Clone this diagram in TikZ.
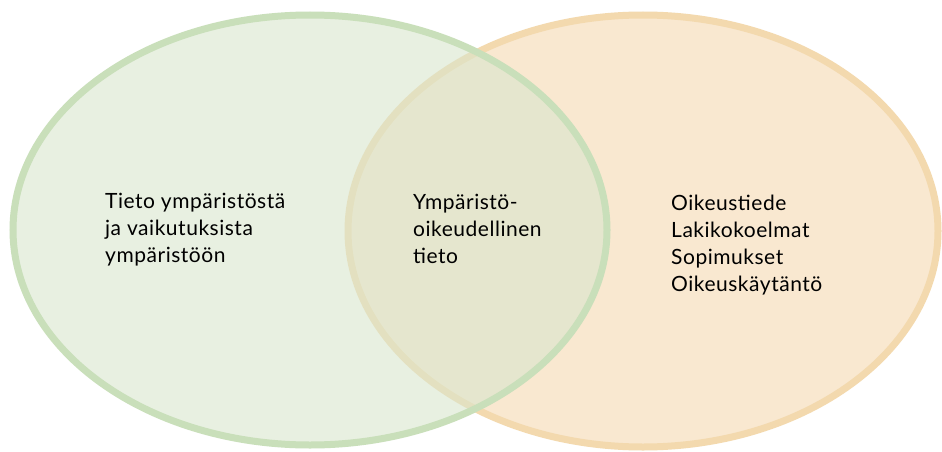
\documentclass[tikz,border=0pt]{standalone}
\usepackage{fontspec}
\setmainfont{Lato}[LetterSpace=2.5]
\definecolor{gfill}{RGB}{217,230,205}
\definecolor{gline}{RGB}{201,223,186}
\definecolor{ofill}{RGB}{249,232,208}
\definecolor{oline}{RGB}{243,217,174}
\tikzset{
  lbl/.style={anchor=base west, align=left, inner sep=0pt, font=\fontsize{21}{26.7}\selectfont, text=black},
}
\begin{document}
\begin{tikzpicture}[x=1pt,y=-1pt]
\useasboundingbox (0,0) rectangle (942,452);
\fill[white] (0,0) rectangle (942,452);
\draw[line width=7pt, draw=oline, fill=ofill] (643,231) ellipse [x radius=295pt, y radius=216pt];
\draw[line width=7pt, draw=gline, fill=gfill, fill opacity=0.6] (310,230) ellipse [x radius=297pt, y radius=215pt];
\node[lbl] (left) at (105,262) {Tieto ympäristöstä\\ja vaikutuksista\\ympäristöön};
\node[lbl] (mid) at (413,263) {Ympäristö-\\oikeudellinen\\tieto};
\node[lbl] (right) at (671,291) {Oikeustiede\\Lakikokoelmat\\Sopimukset\\Oikeuskäytäntö};
\end{tikzpicture}
\end{document}
